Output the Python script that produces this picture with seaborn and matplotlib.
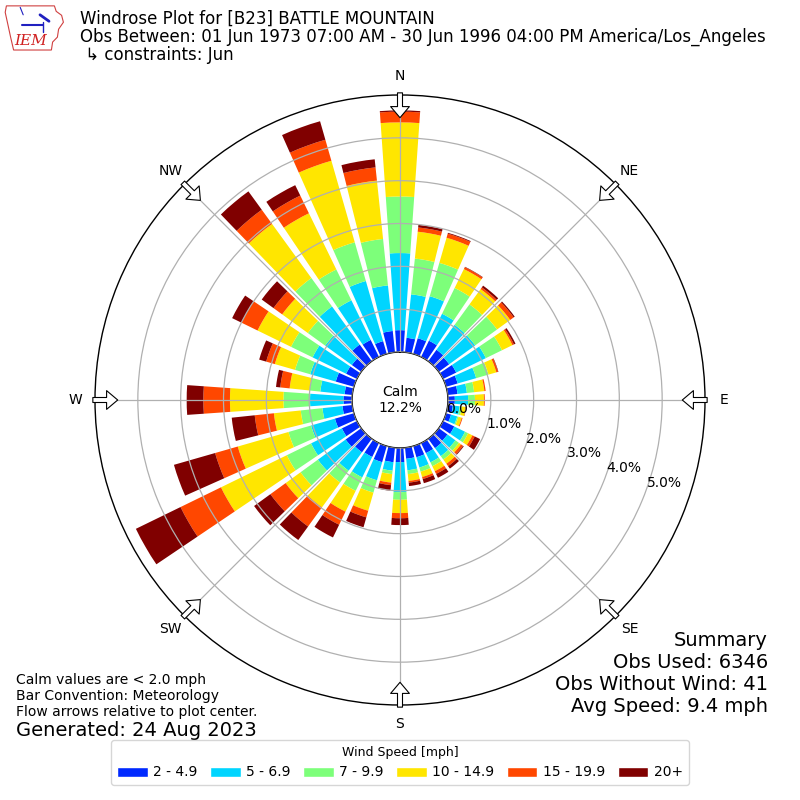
import numpy as np
import matplotlib
matplotlib.use("Agg")
import matplotlib.pyplot as plt
from matplotlib.patches import Patch, Polygon
import seaborn as sns

# wind directions (degrees, where wind blows from)
directions = list(range(0, 360, 10))
speed_bins = ["2 - 4.9", "5 - 6.9", "7 - 9.9", "10 - 14.9", "15 - 19.9", "20+"]

# cumulative frequency (%) at the top of each speed bin, per direction
cum_2 = [0.51, 0.34, 0.38, 0.42, 0.33, 0.30, 0.34, 0.28, 0.23, 0.16, 0.12, 0.12,
         0.29, 0.25, 0.27, 0.26, 0.27, 0.26, 0.33, 0.34, 0.39, 0.36, 0.39, 0.45,
         0.39, 0.46, 0.23, 0.20, 0.18, 0.44, 0.28, 0.27, 0.48, 0.44, 0.31, 0.50]
cum_5 = [2.31, 1.36, 1.40, 1.12, 1.05, 1.05, 1.11, 0.73, 0.45, 0.47, 0.28, 0.27,
         0.57, 0.48, 0.50, 0.50, 0.52, 0.53, 1.03, 0.54, 0.83, 0.89, 0.92, 1.25,
         1.19, 1.04, 0.70, 0.98, 0.75, 1.06, 1.15, 1.04, 1.58, 1.47, 1.77, 1.57]
cum_7 = [3.63, 2.20, 2.21, 1.79, 1.64, 1.68, 1.53, 1.03, 0.62, 0.63, 0.33, 0.30,
         0.65, 0.58, 0.60, 0.60, 0.62, 0.62, 1.21, 0.62, 1.13, 1.24, 1.26, 1.75,
         1.82, 1.59, 1.21, 1.60, 1.00, 1.43, 1.71, 1.54, 2.40, 2.27, 2.71, 2.66]
cum_10 = [5.36, 2.83, 2.82, 2.28, 2.08, 2.06, 1.80, 1.22, 0.86, 0.84, 0.42, 0.38,
          0.76, 0.64, 0.72, 0.73, 0.75, 0.78, 1.52, 0.82, 1.57, 1.78, 1.98, 2.18,
          3.53, 2.82, 1.84, 2.85, 1.47, 1.92, 2.58, 2.28, 3.96, 3.73, 4.69, 4.03]
cum_15 = [5.61, 2.93, 2.92, 2.33, 2.13, 2.16, 1.84, 1.26, 0.89, 0.86, 0.43, 0.40,
          0.82, 0.70, 0.79, 0.80, 0.80, 0.82, 1.64, 0.88, 1.73, 2.12, 2.53, 2.62,
          4.58, 3.37, 2.29, 3.47, 1.69, 2.13, 3.00, 2.53, 4.37, 4.19, 5.20, 4.34]
cum_20 = [5.64, 2.99, 2.94, 2.34, 2.18, 2.19, 1.88, 1.27, 0.89, 0.86, 0.43, 0.40,
          0.96, 0.72, 0.86, 0.90, 0.90, 0.90, 1.80, 1.01, 1.97, 2.45, 2.92, 3.09,
          5.74, 4.37, 2.83, 3.86, 1.79, 2.30, 3.24, 2.87, 4.90, 4.46, 5.65, 4.53]

compass = ["N", "NE", "E", "SE", "S", "SW", "W", "NW"]
rticks = [0, 1, 2, 3, 4, 5]

sns.set_style("white")
plt.rcParams["font.family"] = ["DejaVu Sans"]
for key in ["text.color", "axes.labelcolor", "xtick.color", "ytick.color"]:
    plt.rcParams[key] = "black"
colors = sns.color_palette(list(plt.cm.jet(np.linspace(0, 1, 7))[1:]))

fig = plt.figure(figsize=(8, 8), dpi=100)
ax = fig.add_axes([0.11875, 0.11875, 0.7625, 0.7625], projection="polar")
ax.set_theta_zero_location("N")
ax.set_theta_direction(-1)
ax.set_rorigin(-1.12)
ax.set_ylim(0, 6)

theta = np.deg2rad(directions)
width = np.deg2rad(8)
levels = [np.zeros(len(directions)), cum_2, cum_5, cum_7, cum_10, cum_15, cum_20]
for i, label in enumerate(speed_bins):
    lo = np.asarray(levels[i])
    hi = np.asarray(levels[i + 1])
    ax.bar(theta, hi - lo, bottom=lo, width=width, color=colors[i],
           linewidth=0, zorder=2)

# grid drawn over the bars like the original
ax.set_axisbelow(False)
ax.set_thetagrids(range(0, 360, 45), labels=compass, fontsize=10)
ax.set_rgrids(rticks, labels=[""] * len(rticks))
ax.grid(True, color="#b0b0b0", linewidth=0.9)
for sp in ax.spines.values():
    sp.set_color("black")
    sp.set_linewidth(1.0)

# ring labels, drawn on top of the bars
for r in rticks:
    ax.annotate(f"{r:.1f}%", xy=(np.deg2rad(110), r), xytext=(0.5, 0),
                textcoords="offset points", ha="left", va="bottom",
                fontsize=10, zorder=7, annotation_clip=False)

# flow arrows pointing toward the center
for d in range(0, 360, 45):
    ax.annotate("", xy=(np.deg2rad(d), 5.47), xytext=(np.deg2rad(d), 6.05),
                arrowprops=dict(arrowstyle="simple,head_length=0.8,head_width=1.35,tail_width=0.36",
                                fc="white", ec="black", lw=0.8,
                                shrinkA=0, shrinkB=0),
                annotation_clip=False, zorder=5)

ax.text(0.5, 0.5, "Calm\n12.2%", transform=ax.transAxes, ha="center",
        va="center", fontsize=10, zorder=6)

# header
fig.text(0.1, 0.976, "Windrose Plot for [B23] BATTLE MOUNTAIN", fontsize=12, va="center")
fig.text(0.1, 0.954, "Obs Between: 01 Jun 1973 07:00 AM - 30 Jun 1996 04:00 PM America/Los_Angeles",
         fontsize=12, va="center")
fig.text(0.1, 0.931, " \u21b3 constraints: Jun", fontsize=12, va="center")

# footer text
fig.text(0.02, 0.15, "Calm values are < 2.0 mph", fontsize=10, va="center")
fig.text(0.02, 0.13, "Bar Convention: Meteorology", fontsize=10, va="center")
fig.text(0.02, 0.11, "Flow arrows relative to plot center.", fontsize=10, va="center")
fig.text(0.02, 0.0875, "Generated: 24 Aug 2023", fontsize=14, va="center")

fig.text(0.96, 0.2, "Summary", fontsize=14, ha="right", va="center")
fig.text(0.96, 0.1725, "Obs Used: 6346", fontsize=14, ha="right", va="center")
fig.text(0.96, 0.145, "Obs Without Wind: 41", fontsize=14, ha="right", va="center")
fig.text(0.96, 0.1175, "Avg Speed: 9.4 mph", fontsize=14, ha="right", va="center")

handles = [Patch(facecolor=c) for c in colors]
fig.legend(handles, speed_bins, loc="lower center", bbox_to_anchor=(0.5, 0.01),
           ncol=6, title="Wind Speed [mph]", fontsize=10, title_fontsize=9,
           handlelength=2.2, handletextpad=0.4, columnspacing=0.9)

# small IEM logo
lax = fig.add_axes([0.005, 0.935, 0.075, 0.062])
iowa = [(0.04, 0.93), (0.84, 0.93), (0.87, 0.82), (0.96, 0.74), (0.99, 0.60),
        (0.91, 0.46), (0.89, 0.30), (0.81, 0.20), (0.79, 0.04), (0.16, 0.04),
        (0.11, 0.30), (0.06, 0.58), (0.02, 0.80)]
lax.add_patch(Polygon(iowa, closed=True, fill=False, ec="#d04040", lw=0.8))
lax.plot([0.3, 0.65], [0.55, 0.55], color="#2020c0", lw=1.5)
lax.plot([0.6, 0.75], [0.75, 0.62], color="#2020c0", lw=2)
lax.plot([0.65, 0.65], [0.4, 0.6], color="#2020c0", lw=1)
lax.plot([0.32, 0.27], [0.75, 0.9], color="#2020c0", lw=0.8)
lax.text(0.45, 0.22, "IEM", color="#d02020", fontsize=11, family="DejaVu Serif",
         style="italic", ha="center", va="center")
lax.set_xlim(0, 1)
lax.set_ylim(0, 1)
lax.axis("off")

fig.savefig("out.png", dpi=100)
